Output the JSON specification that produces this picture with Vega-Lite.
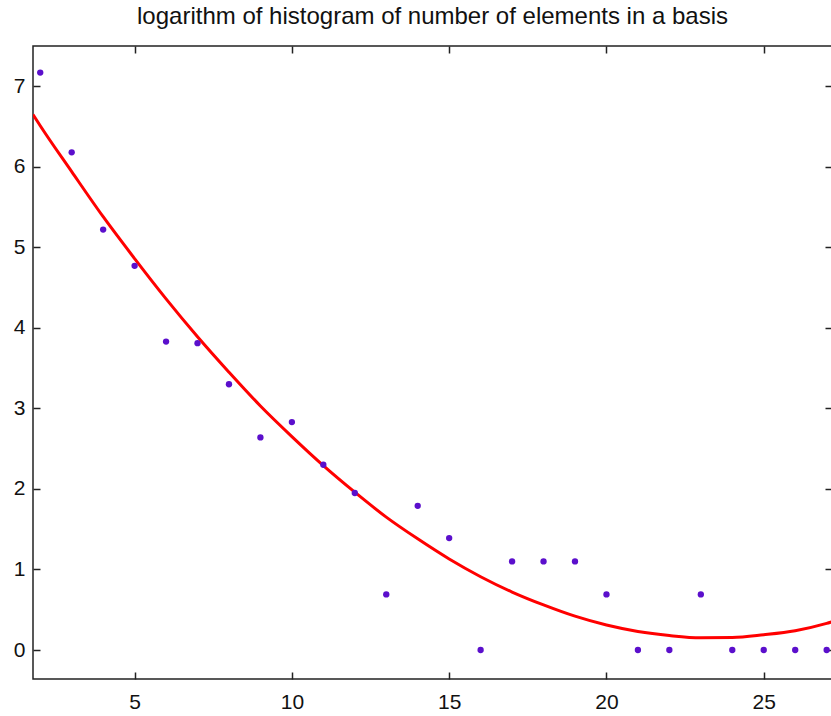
{
  "$schema": "https://vega.github.io/schema/vega-lite/v6.json",
  "width": 799,
  "height": 633,
  "autosize": {"type": "none"},
  "padding": {"left": 33, "top": 46, "right": 0, "bottom": 37},
  "background": "white",
  "config": {
    "view": {"stroke": "#222222", "strokeWidth": 1.5},
    "font": "Liberation Sans",
    "axis": {"grid": false, "domain": false, "tickColor": "#222222", "tickWidth": 1.5, "labelColor": "#111111", "labelFont": "Liberation Sans", "labelFontSize": 21, "title": null}
  },
  "title": {"text": "logarithm of histogram of number of elements in a basis", "fontSize": 24, "fontWeight": "normal", "font": "Liberation Sans", "color": "#111111", "offset": 16, "anchor": "middle"},
  "datasets": {
    "pts": [
      {"n": 2, "v": 7.17}, {"n": 3, "v": 6.18}, {"n": 4, "v": 5.22}, {"n": 5, "v": 4.77},
      {"n": 6, "v": 3.83}, {"n": 7, "v": 3.81}, {"n": 8, "v": 3.30}, {"n": 9, "v": 2.64},
      {"n": 10, "v": 2.83}, {"n": 11, "v": 2.30}, {"n": 12, "v": 1.95}, {"n": 13, "v": 0.69},
      {"n": 14, "v": 1.79}, {"n": 15, "v": 1.39}, {"n": 16, "v": 0}, {"n": 17, "v": 1.10},
      {"n": 18, "v": 1.10}, {"n": 19, "v": 1.10}, {"n": 20, "v": 0.69}, {"n": 21, "v": 0},
      {"n": 22, "v": 0}, {"n": 23, "v": 0.69}, {"n": 24, "v": 0}, {"n": 25, "v": 0},
      {"n": 26, "v": 0}, {"n": 27, "v": 0}
    ],
    "fit": [
      {"n": 1.77, "v": 6.65}, {"n": 2, "v": 6.51}, {"n": 3, "v": 5.94}, {"n": 4, "v": 5.38},
      {"n": 5, "v": 4.86}, {"n": 6, "v": 4.36}, {"n": 7, "v": 3.89}, {"n": 8, "v": 3.45},
      {"n": 9, "v": 3.03}, {"n": 10, "v": 2.65}, {"n": 11, "v": 2.29}, {"n": 12, "v": 1.96},
      {"n": 13, "v": 1.65}, {"n": 14, "v": 1.38}, {"n": 15, "v": 1.13}, {"n": 16, "v": 0.91},
      {"n": 17, "v": 0.72}, {"n": 18, "v": 0.56}, {"n": 19, "v": 0.42}, {"n": 20, "v": 0.31},
      {"n": 21, "v": 0.23}, {"n": 22, "v": 0.18}, {"n": 23, "v": 0.152}, {"n": 24, "v": 0.155},
      {"n": 25, "v": 0.19}, {"n": 26, "v": 0.24}, {"n": 27, "v": 0.33}, {"n": 27.17, "v": 0.35}
    ]
  },
  "resolve": {"axis": {"x": "independent", "y": "independent"}},
  "layer": [
    {
      "data": {"name": "fit"},
      "mark": {"type": "line", "color": "#ff0000", "strokeWidth": 3, "interpolate": "monotone", "clip": true},
      "encoding": {
        "x": {"field": "n", "type": "quantitative", "scale": {"domain": [1.77, 27.17], "nice": false, "zero": false},
              "axis": {"orient": "top", "values": [5, 10, 15, 20, 25], "labels": false, "tickSize": -7}},
        "y": {"field": "v", "type": "quantitative", "scale": {"domain": [-0.36, 7.5], "nice": false, "zero": false},
              "axis": {"orient": "right", "values": [0, 1, 2, 3, 4, 5, 6, 7], "labels": false, "tickSize": -7}}
      }
    },
    {
      "data": {"name": "pts"},
      "mark": {"type": "point", "filled": true, "shape": "circle", "size": 40, "color": "#5b0fcc", "opacity": 1, "clip": true},
      "encoding": {
        "x": {"field": "n", "type": "quantitative",
              "axis": {"orient": "bottom", "values": [5, 10, 15, 20, 25], "tickSize": -7, "labelPadding": 19}},
        "y": {"field": "v", "type": "quantitative",
              "axis": {"orient": "left", "values": [0, 1, 2, 3, 4, 5, 6, 7], "tickSize": -7, "labelPadding": 15}}
      }
    }
  ]
}
